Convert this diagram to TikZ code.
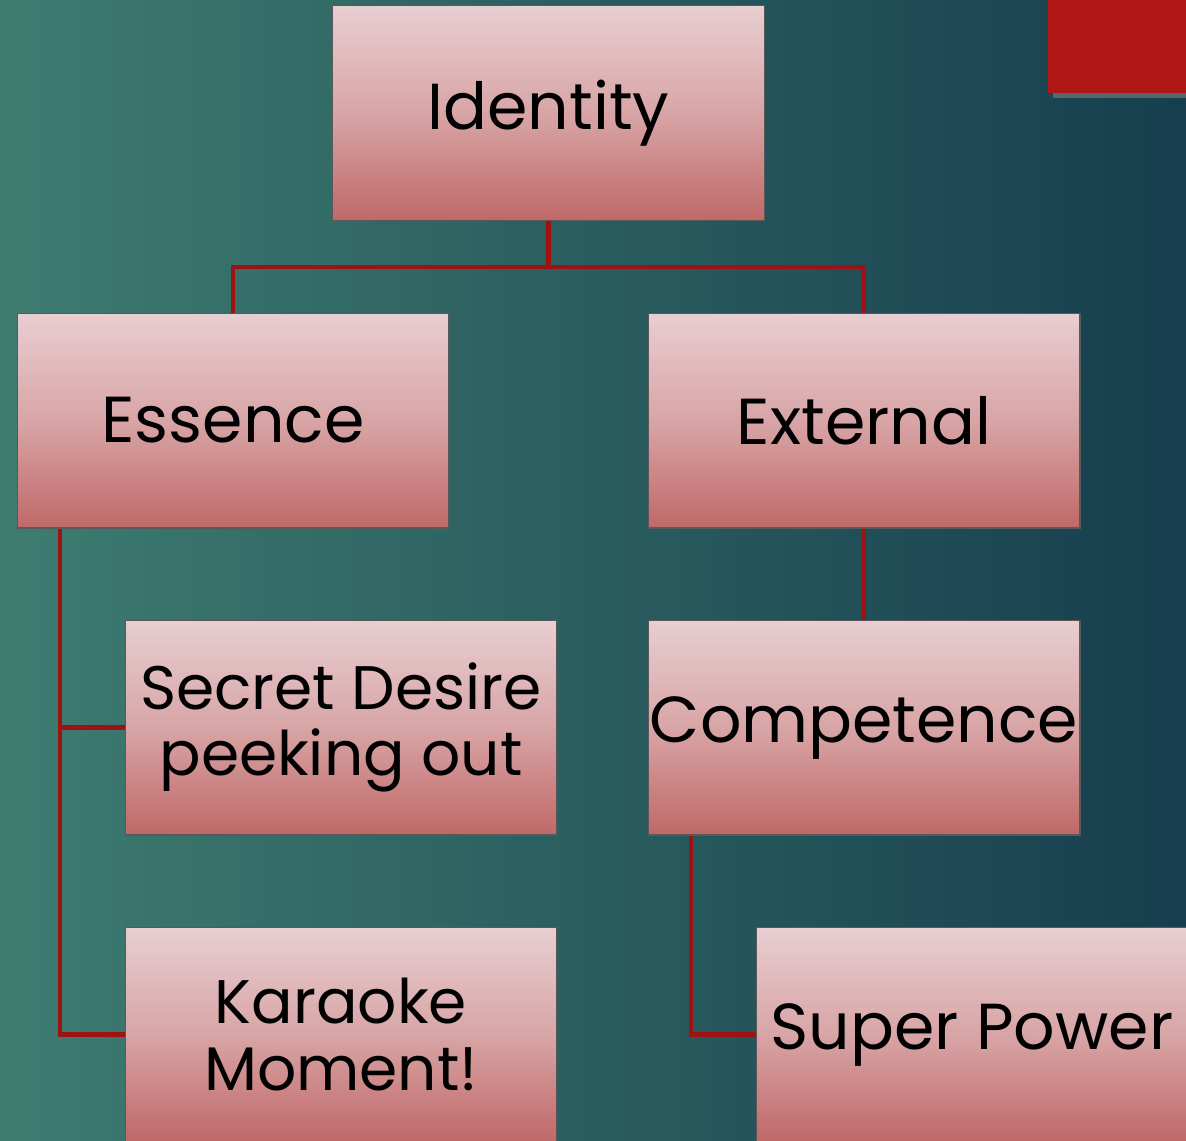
\documentclass[tikz,border=0pt]{standalone}
\usepackage{fontspec}
\setmainfont{Poppins}
\usepackage{tikz}
\usetikzlibrary{positioning,calc,shadows}
\pgfdeclarelayer{back}
\pgfdeclarelayer{bg}
\pgfsetlayers{back,bg,main}
\definecolor{tealL}{RGB}{62,124,112}
\definecolor{tealD}{RGB}{22,62,78}
\definecolor{boxtop}{RGB}{232,206,210}
\definecolor{boxmid}{RGB}{216,165,166}
\definecolor{boxbot}{RGB}{192,104,104}
\definecolor{linkred}{RGB}{160,18,18}
\definecolor{cornerred}{RGB}{176,22,20}
\tikzset{
  tbox/.style={rectangle, draw=black!65, line width=0.6pt, minimum width=8.64cm, minimum height=4.3cm,
    top color=boxtop, bottom color=boxbot, middle color=boxmid, align=center, inner sep=0pt,
    font=\fontsize{37}{40}\selectfont},
  tbox2/.style={tbox, font=\fontsize{35}{38}\selectfont},
  link/.style={draw=linkred, line width=2.4pt}
}
\begin{document}
\begin{tikzpicture}[x=0.02cm,y=-0.02cm]
		\useasboundingbox (0,0) rectangle (1186,1140);
		\clip (0,0) rectangle (1186,1140);
		\node[tbox] (identity) at (548.5,113) {Identity};
		\node[tbox] (essence) at (233,420.5) {Essence};
		\node[tbox] (external) at (864,420.5) {External};
		\node[tbox2] (secret) at (341,727.5) {Secret Desire\\peeking out};
		\node[tbox] (competence) at (864,727.5) {Competence};
		\node[tbox2] (karaoke) at (341,1034.5) {Karaoke\\Moment!};
		\node[tbox] (superpower) at (972,1034.5) {Super Power};
		\begin{pgfonlayer}{back}
		\shade[left color=tealL, right color=tealD] (0,0) rectangle (1186,1140);
		\fill[cornerred, drop shadow={opacity=0.6}] (1048,0) rectangle (1200,93);
		\end{pgfonlayer}
		\begin{pgfonlayer}{bg}
		\draw[link] (identity.south) -- ++(0,46) -| (essence.north);
		\draw[link] (identity.south) -- ++(0,46) -| (external.north);
		\draw[link] (external.south) -- (competence.north);
		\draw[link] ($(essence.south west)!0.1!(essence.south east)$) |- (secret.west);
		\draw[link] ($(essence.south west)!0.1!(essence.south east)$) |- (karaoke.west);
		\draw[link] ($(competence.south west)!0.1!(competence.south east)$) |- (superpower.west);
		\end{pgfonlayer}
	\end{tikzpicture}
\end{document}
